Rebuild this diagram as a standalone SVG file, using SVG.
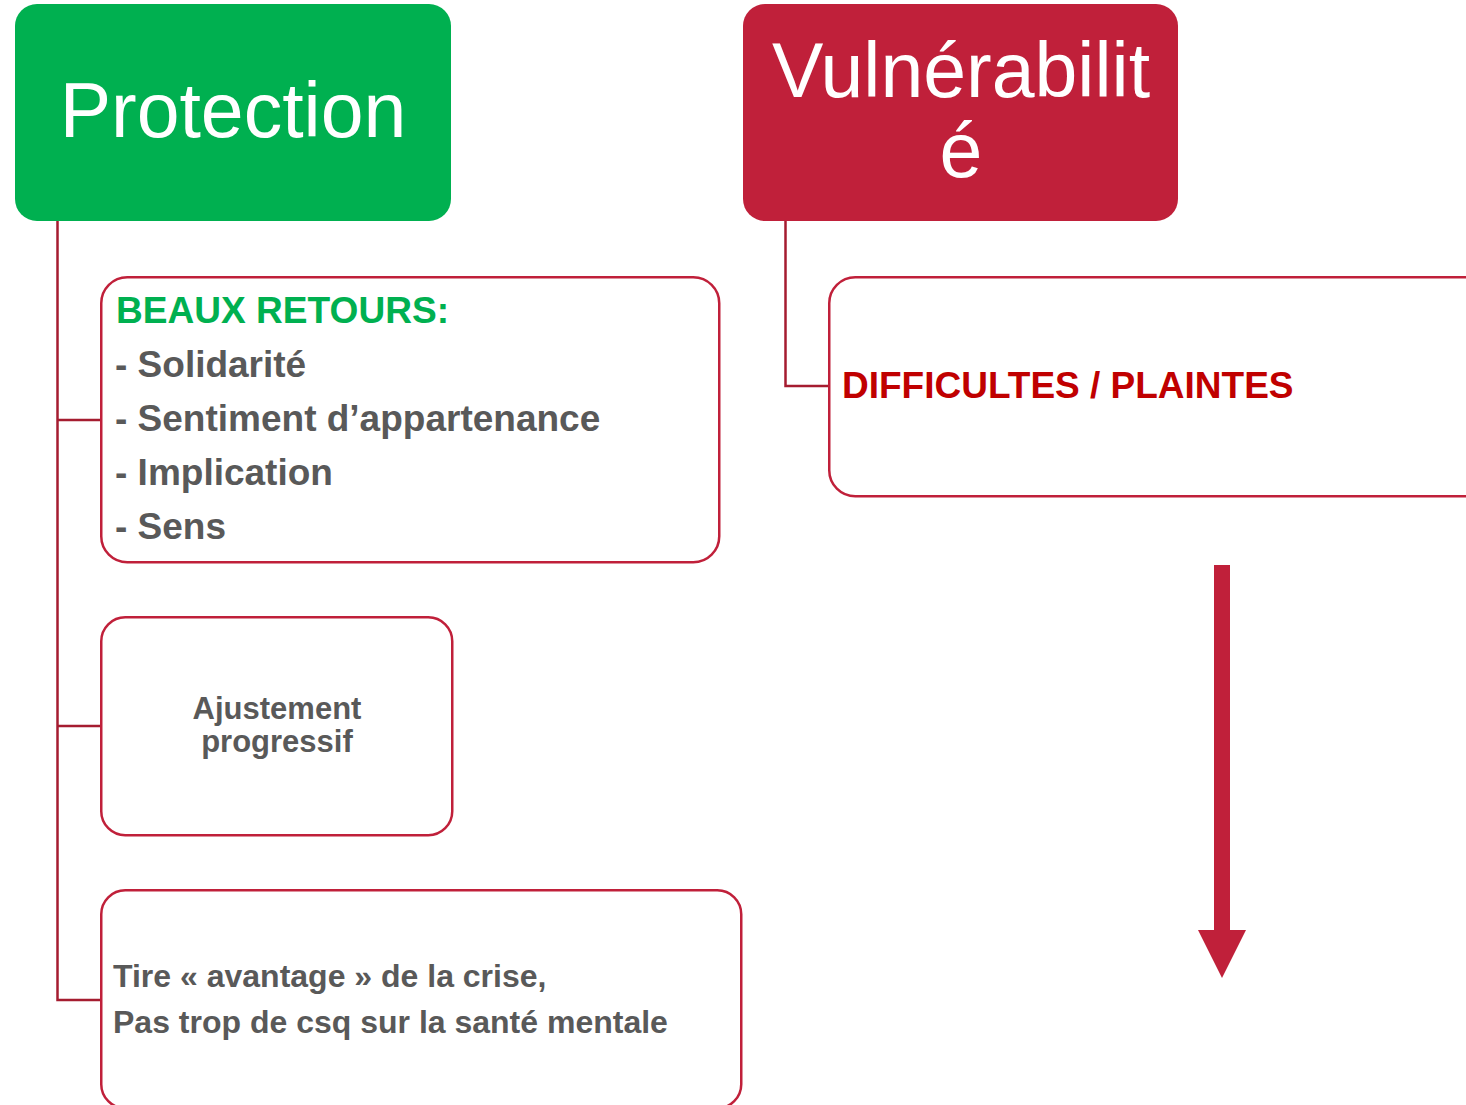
<svg xmlns="http://www.w3.org/2000/svg" width="1466" height="1105" viewBox="0 0 1466 1105">
<style>
.box{fill:#ffffff;stroke:#C0203A;stroke-width:2.5}
.conn{fill:none;stroke:#A51C30;stroke-width:2.5}
.title{font-family:"Liberation Sans",Arial,sans-serif;font-size:77px;fill:#ffffff;text-anchor:middle}
.body{font-family:"Liberation Sans",Arial,sans-serif;font-weight:bold;fill:#595959}
</style>
<rect width="1466" height="1105" fill="#ffffff"/>
<g id="connectors">
<path class="conn" d="M57.5,221 V1000 H101"/>
<path class="conn" d="M57.5,420 H101"/>
<path class="conn" d="M57.5,726 H101"/>
<path class="conn" d="M785.5,221 V386 H829"/>
<g id="arrow">
<rect x="1214" y="565" width="16" height="368" fill="#C0203A"/>
<polygon points="1198,930 1246,930 1222,978" fill="#C0203A"/>
</g>
</g>
<g id="protection">
<rect x="15" y="4" width="436" height="217" rx="22" fill="#00B050"/>
<text class="title" x="233" y="137">Protection</text>
</g>
<g id="vulnerabilite">
<rect x="743" y="4" width="435" height="217" rx="22" fill="#C0203A"/>
<text class="title" x="961" y="97">Vulnérabilit</text>
<text class="title" x="961" y="177">é</text>
</g>
<g id="beaux-retours">
<rect class="box" x="101.25" y="277.25" width="618" height="285" rx="26"/>
<text x="116" y="323" font-family="Liberation Sans, Arial, sans-serif" font-weight="bold" font-size="36.5" fill="#00B050" textLength="333" lengthAdjust="spacingAndGlyphs">BEAUX RETOURS:</text>
<text class="body" font-size="37" x="115" y="377">- Solidarité</text>
<text class="body" font-size="37" x="115" y="431">- Sentiment d’appartenance</text>
<text class="body" font-size="37" x="115" y="485">- Implication</text>
<text class="body" font-size="37" x="115" y="539">- Sens</text>
</g>
<g id="ajustement">
<rect class="box" x="101.25" y="617.25" width="351" height="218" rx="24"/>
<text class="body" font-size="31" x="277" y="719" text-anchor="middle">Ajustement</text>
<text class="body" font-size="31" x="277" y="752" text-anchor="middle">progressif</text>
</g>
<g id="avantage">
<rect class="box" x="101.25" y="890.25" width="640" height="218" rx="24"/>
<text class="body" font-size="32" x="113" y="987">Tire « avantage » de la crise,</text>
<text class="body" font-size="32" x="113" y="1033">Pas trop de csq sur la santé mentale</text>
</g>
<g id="difficultes">
<rect class="box" x="829.25" y="277.25" width="680" height="219" rx="26"/>
<text x="842" y="398" font-family="Liberation Sans, Arial, sans-serif" font-weight="bold" font-size="37" fill="#C00000">DIFFICULTES / PLAINTES</text>
</g>
</svg>
